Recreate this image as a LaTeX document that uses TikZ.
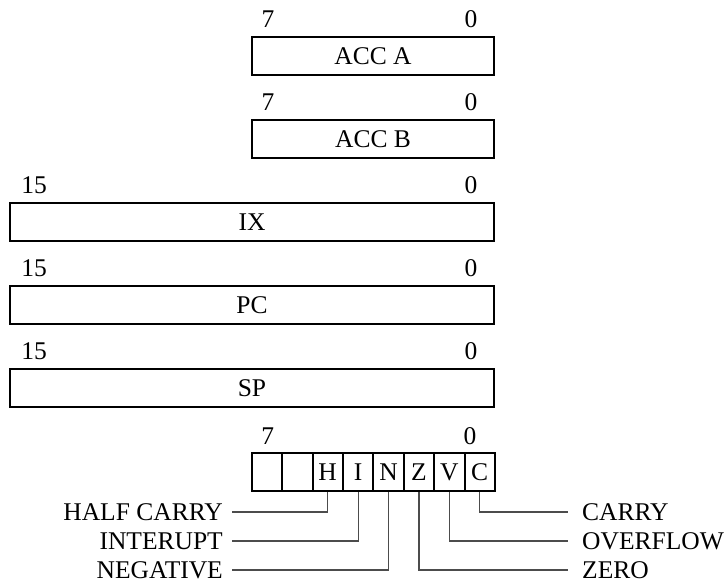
\documentclass[tikz,border=0pt]{standalone}
\usepackage{fontspec}
\setmainfont{Liberation Serif}
\begin{document}
\begin{tikzpicture}[x=1pt,y=-1pt,font=\fontsize{25.5}{30}\selectfont,
  reg/.style={draw,line width=2pt,minimum height=38pt,inner sep=0pt},
  bitno/.style={anchor=south,inner sep=0pt},
  flagcell/.style={draw,line width=2pt,minimum width=30.4pt,minimum height=38pt,inner sep=0pt},
  wire/.style={black!70,line width=1.2pt},
  lname/.style={anchor=east,inner xsep=9pt,inner ysep=0pt},
  rname/.style={anchor=west,inner xsep=14pt,inner ysep=0pt}]
\useasboundingbox (0,0) rectangle (728,582);
\node[reg,minimum width=242pt] (acca) at (373,56) {ACC A};
\node[reg,minimum width=242pt] (accb) at (373,139) {ACC B};
\node[reg,minimum width=484pt] (ix) at (252,222) {IX};
\node[reg,minimum width=484pt] (pc) at (252,305) {PC};
\node[reg,minimum width=484pt] (sp) at (252,388) {SP};
\foreach \r in {acca,accb} {
  \node[bitno] (\r hi) at ([xshift=17pt,yshift=8pt]\r.north west) {7};
  \node[bitno] (\r lo) at ([xshift=-24pt,yshift=8pt]\r.north east) {0};
}
\foreach \r in {ix,pc,sp} {
  \node[bitno] (\r hi) at ([xshift=25pt,yshift=8pt]\r.north west) {15};
  \node[bitno] (\r lo) at ([xshift=-24pt,yshift=8pt]\r.north east) {0};
}
\foreach \t [count=\i] in {{},{},H,I,N,Z,V,C}
  \node[flagcell] (f\i) at ({251.7+30.4*(\i-0.5)},472) {\t};
\node[bitno] (ccrhi) at ([xshift=17pt,yshift=7pt]f1.north west) {7};
\node[bitno] (ccrlo) at ([xshift=-26pt,yshift=7pt]f8.north east) {0};
\node[lname] (halfc) at (232,512) {HALF CARRY};
\node[lname] (intr) at (232,541) {INTERUPT};
\node[lname] (neg) at (232,570) {NEGATIVE};
\node[rname] (carry) at (568,512) {CARRY};
\node[rname] (ovfl) at (568,541) {OVERFLOW};
\node[rname] (zero) at (568,570) {ZERO};
\draw[wire] (f3.south) |- (halfc.east);
\draw[wire] (f4.south) |- (intr.east);
\draw[wire] (f5.south) |- (neg.east);
\draw[wire] (f6.south) |- (zero.west);
\draw[wire] (f7.south) |- (ovfl.west);
\draw[wire] (f8.south) |- (carry.west);
\end{tikzpicture}
\end{document}
